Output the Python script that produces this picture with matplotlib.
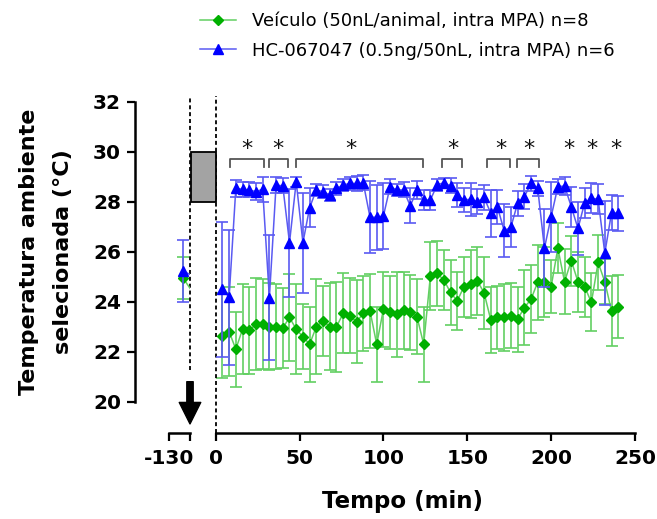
import matplotlib
matplotlib.use('Agg')
import matplotlib.pyplot as plt
import matplotlib.transforms as mtrans
from matplotlib.patches import Rectangle

# ---------------- data ----------------
times = [4, 8, 12, 16, 20, 24, 28, 32, 36, 40, 44, 48, 52, 56, 60, 64, 68, 72, 76, 80,
         84, 88, 92, 96, 100, 104, 108, 112, 116, 120, 124, 128, 132, 136, 140, 144, 148, 152, 156, 160,
         164, 168, 172, 176, 180, 184, 188, 192, 196, 200, 204, 208, 212, 216, 220, 224, 228, 232, 236, 240]

veh_mean = [22.63, 22.80, 22.10, 22.90, 22.85, 23.10, 23.10, 23.00, 23.00, 22.95,
            23.37, 22.90, 22.60, 22.30, 23.00, 23.24, 23.00, 23.00, 23.53, 23.43,
            23.20, 23.53, 23.63, 22.30, 23.70, 23.57, 23.50, 23.65, 23.57, 23.40,
            22.30, 25.03, 25.13, 24.87, 24.37, 24.03, 24.60, 24.70, 24.83, 24.36,
            23.27, 23.37, 23.37, 23.43, 23.30, 23.76, 24.10, 24.78, 24.80, 24.60,
            26.14, 24.80, 25.64, 24.80, 24.60, 23.97, 25.57, 24.80, 23.63, 23.80]
veh_sem = [1.70, 1.77, 1.50, 1.80, 1.75, 1.85, 1.80, 1.75, 1.70, 1.60,
           1.75, 1.80, 1.30, 1.50, 1.90, 1.40, 1.73, 1.80, 1.60, 1.50,
           1.65, 1.50, 1.47, 1.50, 1.50, 1.45, 1.70, 1.55, 1.50, 1.50,
           1.50, 1.37, 1.30, 1.20, 1.30, 1.17, 1.20, 1.37, 1.35, 1.44,
           1.33, 1.27, 1.33, 1.30, 1.30, 1.50, 1.37, 1.50, 1.40, 1.05,
           1.00, 1.30, 1.00, 1.20, 1.20, 1.16, 1.10, 0.90, 1.40, 1.25]

hc_mean = [24.50, 24.18, 28.53, 28.50, 28.47, 28.40, 28.50, 24.16, 28.67, 28.63,
           26.36, 28.80, 26.36, 27.76, 28.47, 28.40, 28.27, 28.53, 28.67, 28.73,
           28.73, 28.75, 27.38, 27.38, 27.43, 28.60, 28.47, 28.47, 27.83, 28.47,
           28.07, 28.07, 28.67, 28.76, 28.63, 28.27, 28.07, 28.10, 28.00, 28.17,
           27.54, 27.78, 26.84, 26.98, 27.94, 28.20, 28.73, 28.53, 26.14, 27.40,
           28.60, 28.63, 27.80, 26.93, 27.96, 28.14, 28.10, 25.94, 27.56, 27.54]
hc_sem = [2.70, 2.70, 0.35, 0.30, 0.30, 0.35, 0.50, 2.50, 0.33, 0.30,
          2.16, 0.20, 2.00, 0.77, 0.25, 0.25, 0.25, 0.25, 0.25, 0.25,
          0.30, 0.30, 1.44, 1.30, 1.33, 0.30, 0.25, 0.30, 0.70, 0.35,
          0.40, 0.40, 0.25, 0.20, 0.30, 0.47, 0.47, 0.66, 0.50, 0.50,
          0.94, 0.67, 1.06, 0.80, 0.50, 0.50, 0.30, 0.30, 1.57, 1.40,
          0.30, 0.35, 0.80, 1.05, 0.60, 0.60, 0.60, 2.07, 0.70, 0.70]

pre_time = [-120]
veh_pre_mean = [24.95]
veh_pre_sem = [0.85]
hc_pre_mean = [25.22]
hc_pre_sem = [1.25]

bracket_start = [8.5, 31.8, 48.1, 134.9, 161.6, 179.7]
bracket_end = [29.0, 43.1, 123.4, 147.0, 175.7, 192.8]
star_x = [18.4, 37.0, 80.7, 141.2, 169.8, 186.8, 210.6, 224.3, 238.5]

veh_label = 'Veículo (50nL/animal, intra MPA) n=8'
hc_label = 'HC-067047 (0.5ng/50nL, intra MPA) n=6'
ylabel = 'Temperatura ambiente\nselecionada (°C)'
xlabel = 'Tempo (min)'
main_xticks = [0, 50, 100, 150, 200, 250]
yticks = [20, 22, 24, 26, 28, 30, 32]

# ---------------- style ----------------
G_MK, G_LN = '#00b000', '#62cf62'
B_MK, B_LN = '#0000ff', '#5a5af2'

W, H = 657, 519
fig = plt.figure(figsize=(W / 100, H / 100), dpi=100)


def fx(px):
    return px / W


def fy(py):
    return 1 - py / H


ax_bottom_px, ax_top_px = 401.7, 101.7
main = fig.add_axes([fx(215.7), fy(ax_bottom_px), (635 - 215.7) / W, (ax_bottom_px - ax_top_px) / H])
pre = fig.add_axes([fx(169), fy(ax_bottom_px), 21 / W, (ax_bottom_px - ax_top_px) / H])

for a in (main, pre):
    a.set_ylim(20, 32)
    a.patch.set_alpha(0)
    for s in ('top', 'right'):
        a.spines[s].set_visible(False)
    a.spines['bottom'].set_position(('outward', 31 * 0.72))
    a.spines['bottom'].set_linewidth(1.8)
    a.spines['left'].set_linewidth(1.8)
    a.tick_params(width=1.6, length=6, labelsize=14.5, pad=4)

main.set_xlim(0, 250)
pre.set_xlim(-130, -115)
main.spines['left'].set_visible(False)
main.tick_params(left=False, labelleft=False)
pre.spines['left'].set_position(('outward', 34 * 0.72))

main.set_xticks(main_xticks)
main.set_xticklabels([str(t) for t in main_xticks])
pre.set_xticks([-130, -115])
pre.set_xticklabels(['-130', ''])
pre.set_yticks(yticks)
pre.set_yticklabels([str(t) for t in yticks])
for a in (main, pre):
    for lab in a.get_xticklabels() + a.get_yticklabels():
        lab.set_fontweight('bold')
    a.tick_params(axis='x', pad=6)

# ---------------- series ----------------
ekw = dict(fmt='none', elinewidth=1.2, capsize=4.5, capthick=1.2)
main.errorbar(times, veh_mean, yerr=veh_sem, ecolor=G_LN, zorder=2, **ekw)
lv, = main.plot(times, veh_mean, color=G_LN, lw=1.1, marker='D', ms=5.3,
                mfc=G_MK, mec=G_MK, zorder=3, label=veh_label)
main.errorbar(times, hc_mean, yerr=hc_sem, ecolor=B_LN, zorder=4, **ekw)
lh, = main.plot(times, hc_mean, color=B_LN, lw=1.1, marker='^', ms=7,
                mfc=B_MK, mec=B_MK, zorder=5, label=hc_label)

pre.errorbar(pre_time, veh_pre_mean, yerr=veh_pre_sem, ecolor=G_LN, zorder=2, **ekw)
pre.errorbar(pre_time, hc_pre_mean, yerr=hc_pre_sem, ecolor=B_LN, zorder=4, **ekw)

# connecting segment from pre point towards first point (clipped at the break)
inv = pre.transData.inverted()
for m_pre, m_first, ln, mk, z, mrk, ms in ((veh_pre_mean, veh_mean, G_LN, G_MK, 3, 'D', 5.3),
                                            (hc_pre_mean, hc_mean, B_LN, B_MK, 5, '^', 7)):
    p = inv.transform(main.transData.transform((times[0], m_first[0])))
    pre.plot([pre_time[0], p[0]], [m_pre[0], p[1]], color=ln, lw=1.1, zorder=z)
    pre.plot(pre_time, m_pre, ls='none', marker=mrk, ms=ms, mfc=mk, mec=mk,
             zorder=z + 0.5, clip_on=False)

# ---------------- decorations ----------------
dash = (0, (2.2, 1.6))
pre.axvline(-115, ymin=(21.27 - 20) / 12, ymax=1.02, color='black', lw=1.3,
            ls=dash, clip_on=False)
main.axvline(0, ymin=-31 / 300, ymax=1.02, color='black', lw=1.3, ls=dash, clip_on=False)

blend = mtrans.blended_transform_factory(fig.transFigure, main.transData)
box = Rectangle((fx(190.5), 28), fx(216) - fx(190.5), 2, transform=blend,
                facecolor='#a3a3a3', edgecolor='black', lw=1.3, clip_on=False)
fig.add_artist(box)

pre.annotate('', xy=(-115, 19.11), xytext=(-115, 20.8),
             arrowprops=dict(facecolor='black', edgecolor='black', width=4.6,
                             headwidth=15.5, headlength=15.5, shrink=0),
             annotation_clip=False)

for x0, x1 in zip(bracket_start, bracket_end):
    main.plot([x0, x0, x1, x1], [29.4, 29.72, 29.72, 29.4], color='#555555',
              lw=1.3, clip_on=False, zorder=6)
for xs in star_x:
    main.text(xs, 30.1, '*', ha='center', va='center', fontsize=16, color='#111111')

# labels
pre.set_ylabel(ylabel, fontsize=16, fontweight='bold', linespacing=1.9,
               multialignment='center')
pre.yaxis.set_label_coords((46 - 169) / 21, 0.5)
pre.yaxis.label.set_va('center')

main.set_xlabel(xlabel, fontsize=16.5, fontweight='bold')
main.xaxis.set_label_coords((403 - 215.7) / (635 - 215.7), (ax_bottom_px - 501.7) / 300)
main.xaxis.label.set_va('center')

fig.legend([lv, lh], [veh_label, hc_label], loc='upper left',
           bbox_to_anchor=(fx(200), fy(12)), frameon=False, fontsize=13,
           handlelength=2.0, handletextpad=0.9, labelspacing=0.65,
           borderpad=0, borderaxespad=0)

fig.savefig('out.png', dpi=100)
